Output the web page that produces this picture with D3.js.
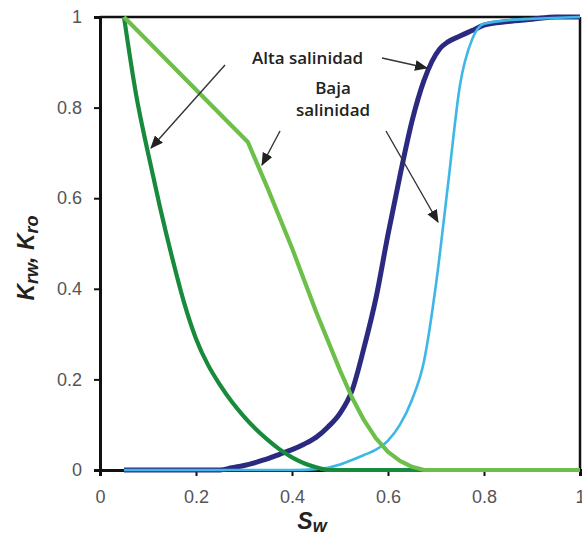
<!DOCTYPE html>
<html>
<head>
<meta charset="utf-8">
<script src="https://cdn.jsdelivr.net/npm/d3@7"></script>
<style>
  html, body { margin: 0; padding: 0; background: #fff; }
  svg { display: block; }
</style>
</head>
<body>
<svg id="chart" width="582" height="539"></svg>
<script>
// Relative permeability curves: water (Krw) and oil (Kro), high vs. low salinity
const xTicks = [0, 0.2, 0.4, 0.6, 0.8, 1];
const yTicks = [0, 0.2, 0.4, 0.6, 0.8, 1];

// Kro, high salinity (dark green)
const kroHighSw = [0.05, 0.075, 0.10, 0.125, 0.15, 0.175, 0.20, 0.225, 0.25, 0.275, 0.30, 0.325, 0.35, 0.375, 0.40, 0.425, 0.45, 0.475, 1.0];
const kroHigh   = [1.00, 0.83, 0.70, 0.58, 0.47, 0.37, 0.29, 0.232, 0.188, 0.15, 0.118, 0.09, 0.066, 0.045, 0.028, 0.015, 0.006, 0.0, 0.0];

// Kro, low salinity (light green)
const kroLowSw = [0.05, 0.15, 0.25, 0.308, 0.35, 0.40, 0.45, 0.50, 0.525, 0.55, 0.575, 0.60, 0.625, 0.65, 0.675, 1.0];
const kroLow   = [1.00, 0.893, 0.786, 0.724, 0.62, 0.49, 0.35, 0.22, 0.16, 0.11, 0.07, 0.04, 0.02, 0.007, 0.0, 0.0];

// Krw, high salinity (navy)
const krwHighSw = [0.05, 0.25, 0.275, 0.30, 0.325, 0.35, 0.375, 0.40, 0.425, 0.45, 0.475, 0.50, 0.525, 0.55, 0.575, 0.60, 0.625, 0.65, 0.675, 0.708, 0.725, 0.75, 0.775, 0.80, 0.85, 0.90, 0.95, 1.0];
const krwHigh   = [0.0, 0.0, 0.005, 0.01, 0.017, 0.025, 0.035, 0.045, 0.057, 0.072, 0.095, 0.125, 0.175, 0.27, 0.38, 0.52, 0.65, 0.77, 0.86, 0.93, 0.945, 0.958, 0.97, 0.982, 0.99, 0.995, 1.0, 1.0];

// Krw, low salinity (light blue)
const krwLowSw = [0.05, 0.40, 0.45, 0.475, 0.50, 0.525, 0.55, 0.575, 0.60, 0.625, 0.65, 0.675, 0.70, 0.725, 0.75, 0.775, 0.80, 0.85, 0.90, 1.0];
const krwLow   = [0.0, 0.0, 0.002, 0.005, 0.012, 0.022, 0.033, 0.045, 0.065, 0.10, 0.155, 0.24, 0.41, 0.63, 0.85, 0.95, 0.985, 0.993, 0.996, 1.0];

const svg = d3.select("#chart");
const x = d3.scaleLinear().domain([0, 1]).range([100, 580]);
const y = d3.scaleLinear().domain([0, 1]).range([470, 17]);

const tickFont = "Liberation Sans, Arial, sans-serif";

// frame: top and right edges
svg.append("line").attr("x1", x(0)).attr("x2", x(1)).attr("y1", y(1)).attr("y2", y(1))
  .attr("stroke", "#111").attr("stroke-width", 2.5);
svg.append("line").attr("x1", x(1)).attr("x2", x(1)).attr("y1", y(1)).attr("y2", y(0))
  .attr("stroke", "#111").attr("stroke-width", 2.5);

// axes
const fmt = d => d === 0 || d === 1 ? d3.format("d")(d) : d3.format(".1f")(d);
const xAxis = svg.append("g").attr("transform", `translate(0,${y(0)})`)
  .call(d3.axisBottom(x).tickValues(xTicks).tickSize(6).tickPadding(14).tickFormat(fmt));
const yAxis = svg.append("g").attr("transform", `translate(${x(0)},0)`)
  .call(d3.axisLeft(y).tickValues(yTicks).tickSize(6).tickPadding(12).tickFormat(fmt));

[xAxis, yAxis].forEach(g => {
  g.select(".domain").attr("stroke", "#111").attr("stroke-width", 3);
  g.selectAll(".tick line").attr("stroke", "#111").attr("stroke-width", 2);
  g.selectAll(".tick text").attr("fill", "#555").attr("font-size", 18)
    .attr("font-family", tickFont);
});

// curves
const zip = (a, b) => a.map((v, i) => [v, b[i]]);
const series = [
  { sw: krwHighSw, k: krwHigh, color: "#2b2a80", width: 5,   curve: d3.curveMonotoneX },
  { sw: krwLowSw,  k: krwLow,  color: "#3db7e6", width: 2.6, curve: d3.curveMonotoneX },
  { sw: kroHighSw, k: kroHigh, color: "#178a3b", width: 4.2, curve: d3.curveMonotoneX },
  { sw: kroLowSw,  k: kroLow,  color: "#6cc04a", width: 4.2, curve: d3.curveLinear }
];
series.forEach(s => {
  const line = d3.line().x(d => x(d[0])).y(d => y(d[1])).curve(s.curve);
  svg.append("path").datum(zip(s.sw, s.k))
    .attr("d", line)
    .attr("fill", "none")
    .attr("stroke", s.color)
    .attr("stroke-width", s.width)
    .attr("stroke-linejoin", "round");
});

// annotation arrows
const defs = svg.append("defs");
defs.append("marker").attr("id", "head")
  .attr("viewBox", "0 0 12 10").attr("refX", 11).attr("refY", 5)
  .attr("markerWidth", 13).attr("markerHeight", 11)
  .attr("markerUnits", "userSpaceOnUse")
  .attr("orient", "auto")
  .append("path").attr("d", "M0,0 L12,5 L0,10 Z").attr("fill", "#222");

const arrows = [
  [225, 65, 151, 148],
  [280, 131, 262, 165],
  [382, 58, 427, 68],
  [386, 131, 438, 222]
];
arrows.forEach(a => {
  svg.append("line").attr("x1", a[0]).attr("y1", a[1]).attr("x2", a[2]).attr("y2", a[3])
    .attr("stroke", "#333").attr("stroke-width", 1.4)
    .attr("marker-end", "url(#head)");
});

const annFont = "Open Sans, Lato, sans-serif";
const ann = svg.append("g").attr("font-family", annFont).attr("font-weight", 600)
  .attr("font-size", 17).attr("fill", "#222");
ann.append("text").attr("x", 252).attr("y", 64).text("Alta salinidad");
ann.append("text").attr("x", 333).attr("y", 94).attr("text-anchor", "middle").text("Baja");
ann.append("text").attr("x", 333).attr("y", 116).attr("text-anchor", "middle").text("salinidad");

// axis titles
const xTitle = svg.append("text").attr("x", 312).attr("y", 529)
  .attr("text-anchor", "middle").attr("font-family", tickFont)
  .attr("font-weight", "bold").attr("font-style", "italic").attr("fill", "#222")
  .attr("font-size", 23);
xTitle.append("tspan").text("S");
xTitle.append("tspan").attr("font-size", 18).attr("dy", 3).text("w");

const yTitle = svg.append("text")
  .attr("transform", "translate(34,258) rotate(-90)")
  .attr("text-anchor", "middle").attr("font-family", tickFont)
  .attr("font-weight", "bold").attr("font-style", "italic").attr("fill", "#222")
  .attr("font-size", 23);
yTitle.append("tspan").text("K");
yTitle.append("tspan").attr("font-size", 18).attr("dy", 4).text("rw");
yTitle.append("tspan").attr("dy", -4).text(", K");
yTitle.append("tspan").attr("font-size", 18).attr("dy", 4).text("ro");
</script>
</body>
</html>
